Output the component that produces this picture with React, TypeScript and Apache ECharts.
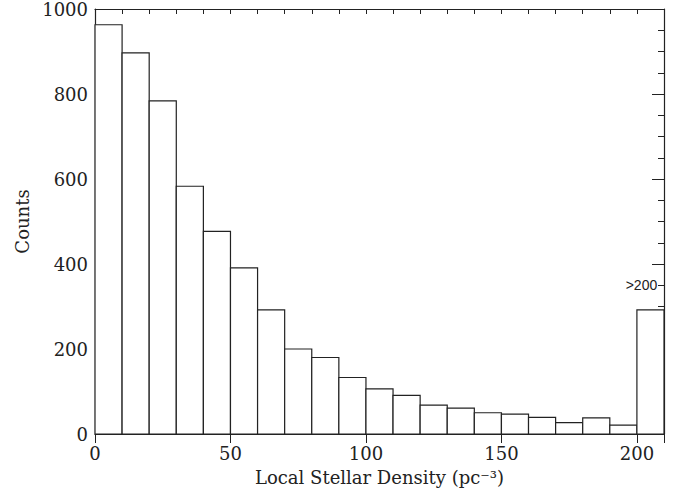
import React, { useEffect, useRef } from "react";
import * as echarts from "echarts";

const binStarts = [0, 10, 20, 30, 40, 50, 60, 70, 80, 90, 100, 110, 120, 130, 140, 150, 160, 170, 180, 190, 200];
const counts = [963, 897, 784, 583, 477, 391, 292, 200, 180, 133, 106, 91, 68, 61, 50, 47, 39, 27, 38, 21, 292];
const binWidth = 10;
const xTitle = "Local Stellar Density (pc\u207B\u00B3)";
const yTitle = "Counts";
const overflowNote = { text: ">200", x: 207.5, y: 350 };

const SERIF = "'DejaVu Serif', serif";
const INK = "#222";

export default function App() {
  const ref = useRef<HTMLDivElement>(null);
  useEffect(() => {
    if (!ref.current) return;
    const chart = echarts.init(ref.current, undefined, { renderer: "svg" });
    const baseX = {
      type: "value" as const,
      min: 0,
      max: 210,
      splitLine: { show: false },
      axisLine: { show: true, onZero: false, lineStyle: { color: INK, width: 1.2 } },
    };
    const baseY = {
      type: "value" as const,
      min: 0,
      max: 1000,
      interval: 200,
      splitLine: { show: false },
      axisLine: { show: true, onZero: false, lineStyle: { color: INK, width: 1.2 } },
      axisTick: { show: true, inside: true, length: 12, lineStyle: { color: INK, width: 1 } },
      minorTick: { show: true, splitNumber: 4, length: 6, lineStyle: { color: INK, width: 1 } },
    };
    chart.setOption({
      animation: false,
      backgroundColor: "#fff",
      grid: { left: 95, right: 25, top: 4, bottom: 59, containLabel: false },
      xAxis: [
        {
          ...baseX,
          position: "bottom",
          interval: 10,
          axisTick: { show: true, inside: true, length: 5, lineStyle: { color: INK, width: 1 } },
          axisLabel: {
            show: true,
            margin: 10,
            fontFamily: SERIF,
            fontSize: 18,
            color: INK,
            formatter: (v: number) => (v % 50 === 0 && v <= 200 ? String(v) : ""),
          },
          name: xTitle,
          nameLocation: "middle",
          nameGap: 34,
          nameTextStyle: { fontFamily: SERIF, fontSize: 18, color: INK },
        },
        {
          ...baseX,
          position: "bottom",
          interval: 50,
          axisLine: { show: false },
          axisTick: { show: true, inside: true, length: 9, lineStyle: { color: INK, width: 1 } },
          axisLabel: { show: false },
        },
        {
          ...baseX,
          position: "top",
          interval: 10,
          axisTick: { show: true, inside: true, length: 5, lineStyle: { color: INK, width: 1 } },
          axisLabel: { show: false },
        },
        {
          ...baseX,
          position: "top",
          interval: 50,
          axisLine: { show: false },
          axisTick: { show: true, inside: true, length: 9, lineStyle: { color: INK, width: 1 } },
          axisLabel: { show: false },
        },
      ],
      yAxis: [
        {
          ...baseY,
          position: "left",
          axisLabel: {
            show: true,
            margin: 7,
            fontFamily: SERIF,
            fontSize: 18,
            color: INK,
            formatter: (v: number) => String(v),
          },
          name: yTitle,
          nameLocation: "middle",
          nameGap: 62,
          nameTextStyle: { fontFamily: SERIF, fontSize: 18, color: INK },
        },
        {
          ...baseY,
          position: "right",
          axisLabel: { show: false },
        },
      ],
      series: [
        {
          type: "custom",
          xAxisIndex: 0,
          yAxisIndex: 0,
          encode: { x: 0, y: 1 },
          data: binStarts.map((b, i) => [b, counts[i]]),
          renderItem: (params: any, api: any) => {
            const x0 = api.value(0);
            const v = api.value(1);
            const p0 = api.coord([x0, v]);
            const p1 = api.coord([x0 + binWidth, 0]);
            return {
              type: "rect",
              shape: { x: p0[0], y: p0[1], width: p1[0] - p0[0], height: p1[1] - p0[1] },
              style: { fill: "#fff", stroke: INK, lineWidth: 1.2 },
            };
          },
          z: 1,
        },
        {
          type: "custom",
          xAxisIndex: 0,
          yAxisIndex: 0,
          data: [[overflowNote.x, overflowNote.y]],
          renderItem: (params: any, api: any) => {
            const p = api.coord([api.value(0), api.value(1)]);
            return {
              type: "text",
              x: p[0],
              y: p[1],
              style: {
                text: overflowNote.text,
                fontFamily: "'Liberation Sans', Arial, sans-serif",
                fontSize: 14,
                fill: INK,
                align: "right",
                verticalAlign: "middle",
              },
            };
          },
          z: 3,
        },
      ],
    });
    return () => chart.dispose();
  }, []);
  return (
    <div
      ref={ref}
      style={{ position: "absolute", left: 0, top: 0, width: 689, height: 493 }}
    />
  );
}
